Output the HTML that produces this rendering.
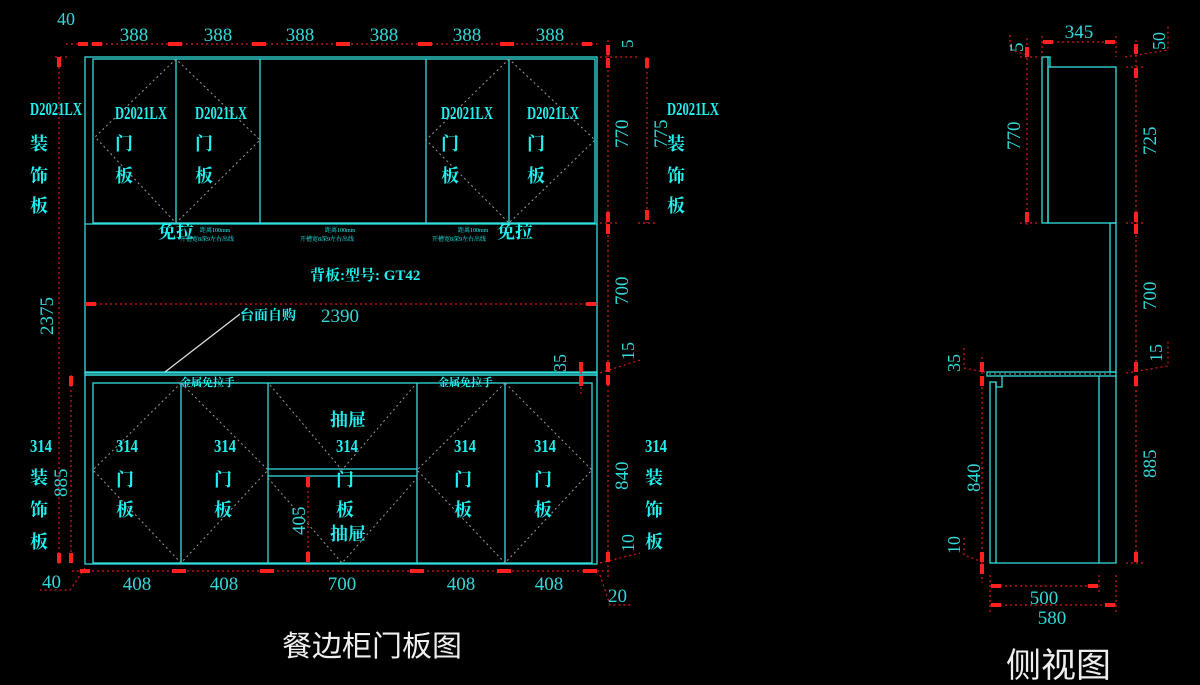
<!DOCTYPE html>
<html><head><meta charset="utf-8"><style>
html,body{margin:0;padding:0;background:#000;}
svg{display:block}
.l{stroke:#33dede;stroke-width:1.3;fill:none}
.d{stroke:#e01818;stroke-width:1.2;stroke-dasharray:2 3;fill:none}
.g{stroke:#9a9a9a;stroke-width:1;stroke-dasharray:2 3;fill:none}
.n{font-family:"Liberation Serif",serif;fill:#33d8d8;font-size:19px}
.c{font-family:"Liberation Serif","Noto Serif CJK SC",serif;fill:#22f0f0;font-weight:bold}
.t{font-family:"Liberation Sans","Noto Sans CJK SC",sans-serif;fill:#eee}
.a{fill:#ff2020}
</style></head><body>
<svg width="1200" height="685" viewBox="0 0 1200 685" xmlns="http://www.w3.org/2000/svg">
<rect class="l" x="85" y="57" width="512" height="316"/>
<line class="l" x1="85" y1="224" x2="597" y2="224"/>
<rect class="l" x="93" y="59" width="502" height="164"/>
<line class="l" x1="176" y1="59" x2="176" y2="223"/>
<line class="l" x1="260" y1="59" x2="260" y2="223"/>
<line class="l" x1="426" y1="59" x2="426" y2="223"/>
<line class="l" x1="509" y1="59" x2="509" y2="223"/>
<polyline class="g" points="176,59 95,137 176,223 260,140 176,59"/>
<polyline class="g" points="509,59 426,140 509,223 595,140 509,59"/>
<rect class="l" x="85" y="372" width="512" height="3"/>
<line class="l" x1="165" y1="372" x2="240" y2="314" style="stroke:#ddd"/>
<rect class="l" x="85" y="375" width="512" height="189"/>
<rect class="l" x="93" y="383" width="499" height="180"/>
<line class="l" x1="181" y1="383" x2="181" y2="563"/>
<line class="l" x1="268" y1="383" x2="268" y2="563"/>
<line class="l" x1="417" y1="383" x2="417" y2="563"/>
<line class="l" x1="505" y1="383" x2="505" y2="563"/>
<line class="l" x1="268" y1="469" x2="417" y2="469"/>
<line class="l" x1="268" y1="476" x2="417" y2="476"/>
<polyline class="g" points="181,383 93,470 181,563 268,470 181,383"/>
<polyline class="g" points="505,383 417,470 505,563 592,470 505,383"/>
<polyline class="g" points="270,385 342,470 415,385"/>
<polyline class="g" points="268,478 342,563 417,478"/>

<line class="d" x1="66" y1="44" x2="597" y2="44"/>
<g class="a">
<rect x="78" y="42" width="10" height="4"/><rect x="92" y="42" width="10" height="4"/>
<rect x="168" y="42" width="14" height="4"/><rect x="252" y="42" width="14" height="4"/>
<rect x="336" y="42" width="14" height="4"/><rect x="418" y="42" width="14" height="4"/>
<rect x="500" y="42" width="14" height="4"/><rect x="582" y="42" width="10" height="4"/>
</g>
<g class="n" text-anchor="middle">
<text x="66" y="25" font-size="18">40</text>
<text x="134" y="41">388</text><text x="218" y="41">388</text><text x="300" y="41">388</text>
<text x="384" y="41">388</text><text x="467" y="41">388</text><text x="550" y="41">388</text>
</g>
<line class="d" x1="59" y1="57" x2="59" y2="565"/>
<line class="d" x1="55" y1="57" x2="70" y2="57"/>
<line class="d" x1="71" y1="375" x2="71" y2="565"/>
<rect class="a" x="57" y="57" width="4" height="10"/><rect class="a" x="57" y="553" width="4" height="10"/>
<rect class="a" x="69" y="376" width="4" height="10"/><rect class="a" x="69" y="553" width="4" height="10"/>
<text class="n" transform="translate(53,335) rotate(-90)">2375</text>
<text class="n" transform="translate(67,497) rotate(-90)">885</text>
<polyline class="d" points="85,568 70,590 40,590"/>
<text class="n" x="42" y="588" font-size="18">40</text>
<line class="d" x1="72" y1="571" x2="610" y2="571"/>
<g class="a"><rect x="80" y="569" width="10" height="4"/><rect x="172" y="569" width="14" height="4"/>
<rect x="260" y="569" width="14" height="4"/><rect x="410" y="569" width="14" height="4"/>
<rect x="497" y="569" width="14" height="4"/><rect x="583" y="569" width="14" height="4"/></g>
<g class="n" text-anchor="middle">
<text x="137" y="590">408</text><text x="224" y="590">408</text><text x="342" y="590">700</text>
<text x="461" y="590">408</text><text x="549" y="590">408</text></g>
<polyline class="d" points="600,575 610,605 632,605"/>
<text class="n" x="608" y="602" font-size="18">20</text>
<line class="d" x1="85" y1="304" x2="597" y2="304"/>
<rect class="a" x="86" y="302" width="10" height="4"/><rect class="a" x="586" y="302" width="10" height="4"/>
<text class="n" x="340" y="322" text-anchor="middle">2390</text>
<line class="d" x1="608" y1="40" x2="608" y2="580"/>
<line class="d" x1="600" y1="57" x2="640" y2="57"/>
<line class="d" x1="600" y1="223" x2="620" y2="223"/>
<line class="d" x1="600" y1="373" x2="640" y2="360"/>
<line class="d" x1="600" y1="563" x2="640" y2="553"/>
<line class="d" x1="647" y1="57" x2="647" y2="223"/>
<line class="d" x1="638" y1="223" x2="655" y2="223"/>
<line class="d" x1="581" y1="372" x2="581" y2="395"/>
<g class="a"><rect x="606" y="45" width="4" height="10"/><rect x="606" y="58" width="4" height="10"/>
<rect x="606" y="212" width="4" height="10"/><rect x="606" y="224" width="4" height="10"/>
<rect x="606" y="362" width="4" height="10"/><rect x="606" y="375" width="4" height="10"/>
<rect x="606" y="552" width="4" height="10"/><rect x="645" y="58" width="4" height="10"/><rect x="645" y="210" width="4" height="10"/>
<rect x="579" y="362" width="4" height="10"/><rect x="579" y="376" width="4" height="10"/></g>
<g class="n">
<text transform="translate(633,48) rotate(-90)" font-size="17">5</text>
<text transform="translate(628,148) rotate(-90)">770</text>
<text transform="translate(667,148) rotate(-90)">775</text>
<text transform="translate(628,305) rotate(-90)">700</text>
<text transform="translate(634,360) rotate(-90)" font-size="18">15</text>
<text transform="translate(566,372) rotate(-90)" font-size="18">35</text>
<text transform="translate(628,490) rotate(-90)">840</text>
<text transform="translate(634,552) rotate(-90)" font-size="18">10</text>
<text transform="translate(305,535) rotate(-90)">405</text>
</g>
<line class="d" x1="308" y1="476" x2="308" y2="563"/>
<rect class="a" x="306" y="477" width="4" height="10"/><rect class="a" x="306" y="552" width="4" height="10"/>

<g class="c" font-size="18">
<text x="30" y="115" textLength="52" lengthAdjust="spacingAndGlyphs">D2021LX</text>
<text x="30" y="150">装</text><text x="30" y="182">饰</text><text x="30" y="212">板</text>
<text x="115" y="119" textLength="52" lengthAdjust="spacingAndGlyphs">D2021LX</text>
<text x="115" y="150">门</text><text x="115" y="182">板</text>
<text x="195" y="119" textLength="52" lengthAdjust="spacingAndGlyphs">D2021LX</text>
<text x="195" y="150">门</text><text x="195" y="182">板</text>
<text x="441" y="119" textLength="52" lengthAdjust="spacingAndGlyphs">D2021LX</text>
<text x="441" y="150">门</text><text x="441" y="182">板</text>
<text x="527" y="119" textLength="52" lengthAdjust="spacingAndGlyphs">D2021LX</text>
<text x="527" y="150">门</text><text x="527" y="182">板</text>
<text x="667" y="115" textLength="52" lengthAdjust="spacingAndGlyphs">D2021LX</text>
<text x="667" y="150">装</text><text x="667" y="182">饰</text><text x="667" y="212">板</text>
<text x="158" y="238">免拉</text><text x="497" y="238">免拉</text>
<text x="310" y="280" font-size="15">背板:型号: GT42</text>
<text x="240" y="320" font-size="14">台面自购</text>
<text x="30" y="452" textLength="22" lengthAdjust="spacingAndGlyphs">314</text>
<text x="30" y="484">装</text><text x="30" y="516">饰</text><text x="30" y="548">板</text>
<text x="116" y="452" textLength="22" lengthAdjust="spacingAndGlyphs">314</text>
<text x="116" y="486">门</text><text x="116" y="516">板</text>
<text x="214" y="452" textLength="22" lengthAdjust="spacingAndGlyphs">314</text>
<text x="214" y="486">门</text><text x="214" y="516">板</text>
<text x="330" y="426">抽屉</text>
<text x="336" y="452" textLength="22" lengthAdjust="spacingAndGlyphs">314</text>
<text x="336" y="486">门</text><text x="336" y="516">板</text>
<text x="330" y="540">抽屉</text>
<text x="454" y="452" textLength="22" lengthAdjust="spacingAndGlyphs">314</text>
<text x="454" y="486">门</text><text x="454" y="516">板</text>
<text x="534" y="452" textLength="22" lengthAdjust="spacingAndGlyphs">314</text>
<text x="534" y="486">门</text><text x="534" y="516">板</text>
<text x="645" y="452" textLength="22" lengthAdjust="spacingAndGlyphs">314</text>
<text x="645" y="484">装</text><text x="645" y="516">饰</text><text x="645" y="548">板</text>
<text x="180" y="386" font-size="11">金属免拉手</text>
<text x="438" y="386" font-size="11">金属免拉手</text>
<g font-size="6" font-weight="normal">
<text x="200" y="232">距离100mm</text><text x="180" y="241">开槽宽8深9左右出线</text>
<text x="325" y="232">距离100mm</text><text x="300" y="241">开槽宽8深9左右出线</text>
<text x="458" y="232">距离100mm</text><text x="432" y="241">开槽宽8深9左右出线</text>
</g>
</g>

<rect class="l" x="1048" y="67" width="68" height="156"/>
<rect class="l" x="1042" y="57" width="6" height="166"/>
<polyline class="l" points="1046,57 1050,57 1050,67"/>
<rect class="l" x="1110" y="223" width="6" height="149"/>
<rect class="l" x="987" y="372" width="129" height="4"/>
<line class="g" x1="989" y1="374" x2="1114" y2="374"/>
<rect class="l" x="990" y="382" width="6" height="181"/>
<polyline class="l" points="996,563 1116,563 1116,376"/>
<polyline class="l" points="996,382 996,387 1002,387 1002,376"/>
<line class="l" x1="1099" y1="376" x2="1099" y2="563"/>
<line class="d" x1="1042" y1="42" x2="1116" y2="42"/>
<line class="d" x1="1042" y1="36" x2="1042" y2="57"/><line class="d" x1="1116" y1="36" x2="1116" y2="57"/>
<rect class="a" x="1043" y="40" width="10" height="4"/><rect class="a" x="1105" y="40" width="10" height="4"/>
<text class="n" x="1079" y="38" text-anchor="middle">345</text>
<line class="d" x1="1027" y1="38" x2="1027" y2="225"/>
<line class="d" x1="1020" y1="57" x2="1040" y2="57"/><line class="d" x1="1020" y1="223" x2="1040" y2="223"/>
<polyline class="d" points="1010,35 1010,50 1027,55"/>
<rect class="a" x="1025" y="47" width="4" height="10"/><rect class="a" x="1025" y="212" width="4" height="10"/>
<text class="n" transform="translate(1023,52) rotate(-90)" font-size="17">5</text>
<text class="n" transform="translate(1020,150) rotate(-90)">770</text>
<line class="d" x1="1136" y1="40" x2="1136" y2="565"/>
<polyline class="d" points="1125,57 1168,50 1168,25"/>
<line class="d" x1="1126" y1="67" x2="1146" y2="67"/><line class="d" x1="1126" y1="223" x2="1146" y2="223"/>
<polyline class="d" points="1126,373 1168,366 1168,340"/>
<line class="d" x1="1126" y1="563" x2="1146" y2="563"/>
<g class="a"><rect x="1134" y="44" width="4" height="10"/><rect x="1134" y="68" width="4" height="10"/>
<rect x="1134" y="212" width="4" height="10"/><rect x="1134" y="224" width="4" height="10"/>
<rect x="1134" y="362" width="4" height="10"/><rect x="1134" y="376" width="4" height="10"/>
<rect x="1134" y="552" width="4" height="10"/></g>
<g class="n">
<text transform="translate(1165,50) rotate(-90)" font-size="18">50</text>
<text transform="translate(1156,155) rotate(-90)">725</text>
<text transform="translate(1156,310) rotate(-90)">700</text>
<text transform="translate(1162,362) rotate(-90)" font-size="18">15</text>
<text transform="translate(1156,478) rotate(-90)">885</text>
<text transform="translate(960,372) rotate(-90)" font-size="18">35</text>
<text transform="translate(980,492) rotate(-90)">840</text>
<text transform="translate(960,554) rotate(-90)" font-size="18">10</text>
</g>
<line class="d" x1="982" y1="357" x2="982" y2="583"/>
<polyline class="d" points="964,348 964,368 985,372"/>
<polyline class="d" points="964,538 964,555 985,563"/>
<g class="a"><rect x="980" y="362" width="4" height="10"/><rect x="980" y="376" width="4" height="10"/>
<rect x="980" y="552" width="4" height="10"/><rect x="980" y="564" width="4" height="10"/></g>
<line class="d" x1="990" y1="586" x2="1099" y2="586"/>
<line class="d" x1="990" y1="605" x2="1116" y2="605"/>
<line class="d" x1="990" y1="575" x2="990" y2="612"/><line class="d" x1="1099" y1="575" x2="1099" y2="592"/><line class="d" x1="1116" y1="575" x2="1116" y2="612"/>
<g class="a"><rect x="991" y="584" width="10" height="4"/><rect x="1088" y="584" width="10" height="4"/>
<rect x="991" y="603" width="10" height="4"/><rect x="1105" y="603" width="10" height="4"/></g>
<text class="n" x="1044" y="604" text-anchor="middle">500</text>
<text class="n" x="1052" y="624" text-anchor="middle">580</text>

<text class="t" x="282" y="656" font-size="29" textLength="180" lengthAdjust="spacingAndGlyphs">餐边柜门板图</text>
<text class="t" x="1006" y="677" font-size="34" textLength="105" lengthAdjust="spacingAndGlyphs">侧视图</text>
</svg>
</body></html>
